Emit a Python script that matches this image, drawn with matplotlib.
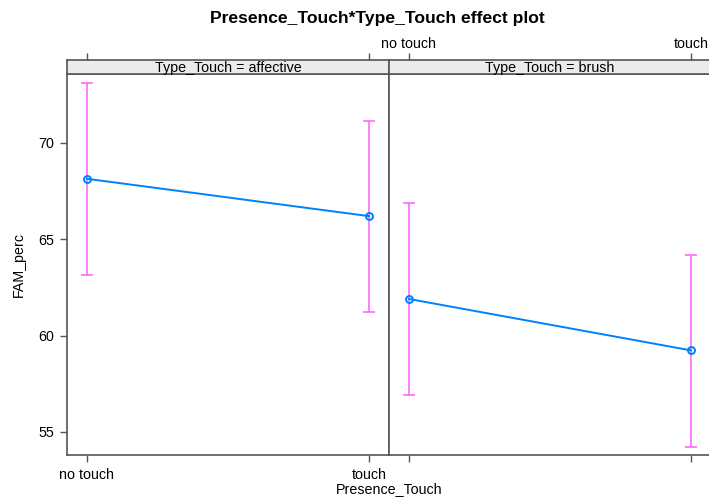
import matplotlib
matplotlib.use("Agg")
import matplotlib.pyplot as plt
import numpy as np

categories = ["no touch", "touch"]
panels = ["affective", "brush"]
fit = {"affective": [68.14, 66.20], "brush": [61.90, 59.23]}
lower = {"affective": [63.13, 61.22], "brush": [56.89, 54.22]}
upper = {"affective": [73.12, 71.16], "brush": [66.89, 64.20]}
yticks = [55, 60, 65, 70]

W, H = 709, 498
plt.rcParams['font.family'] = ['Liberation Sans', 'DejaVu Sans']
fig = plt.figure(figsize=(W / 100, H / 100), dpi=100)

def fx(px):
    return px / W

def fy(py):
    return 1 - py / H

ylim = (53.8, 73.58)
xlim = (-0.0707, 1.0707)
panel_x = [(67, 389), (389, 711)]
top, bottom, strip_top = 74, 455, 60
edge = "#555555"
fs = 10.3

for i, (name, (x0, x1)) in enumerate(zip(panels, panel_x)):
    ax = fig.add_axes([fx(x0), fy(bottom), fx(x1 - x0), fy(top) - fy(bottom)])
    xs = np.arange(len(categories))
    ax.plot(xs, fit[name], color="#0080FF", lw=1.4, marker="o", ms=5,
            mfc="none", mec="#0080FF", mew=1.4, zorder=3)
    lo = np.array(fit[name]) - np.array(lower[name])
    hi = np.array(upper[name]) - np.array(fit[name])
    ax.errorbar(xs, fit[name], yerr=[lo, hi], fmt="none", ecolor="#FF5CFF",
                elinewidth=1.1, capsize=4.5, capthick=1.1, zorder=2)
    ax.set_xlim(*xlim)
    ax.set_ylim(*ylim)
    ax.set_xticks(xs)
    if i == 0:
        ax.set_xticklabels(categories, fontsize=fs)
        ax.set_yticks(yticks)
        ax.set_yticklabels([str(v) for v in yticks], fontsize=fs)
        ax.set_ylabel("FAM_perc", fontsize=fs, labelpad=9)
    else:
        ax.set_xticklabels([])
        ax.set_yticks([])
    ax.tick_params(axis="both", length=5, width=1, color=edge, pad=4)
    for s in ax.spines.values():
        s.set_color(edge)
        s.set_linewidth(1.2)

    sax = fig.add_axes([fx(x0), fy(top), fx(x1 - x0), fy(strip_top) - fy(top)])
    sax.set_facecolor("#EBEBEB")
    sax.set_xlim(*xlim)
    sax.set_ylim(0, 1)
    sax.text(0.5, 0.45, "Type_Touch = " + name, transform=sax.transAxes,
             ha="center", va="center", fontsize=fs)
    sax.xaxis.tick_top()
    sax.set_xticks(xs)
    if i == 1:
        sax.set_xticklabels(categories, fontsize=fs)
    else:
        sax.set_xticklabels([])
    sax.set_yticks([])
    sax.tick_params(axis="x", length=5, width=1, color=edge, pad=1.5)
    for s in sax.spines.values():
        s.set_color(edge)
        s.set_linewidth(1.2)

fig.text(fx(377), fy(18), "Presence_Touch*Type_Touch effect plot",
         ha="center", va="center", fontsize=12.6, fontweight="bold")
fig.text(fx(389), fy(489), "Presence_Touch", ha="center", va="center",
         fontsize=fs)

fig.savefig("out.png", dpi=100)
